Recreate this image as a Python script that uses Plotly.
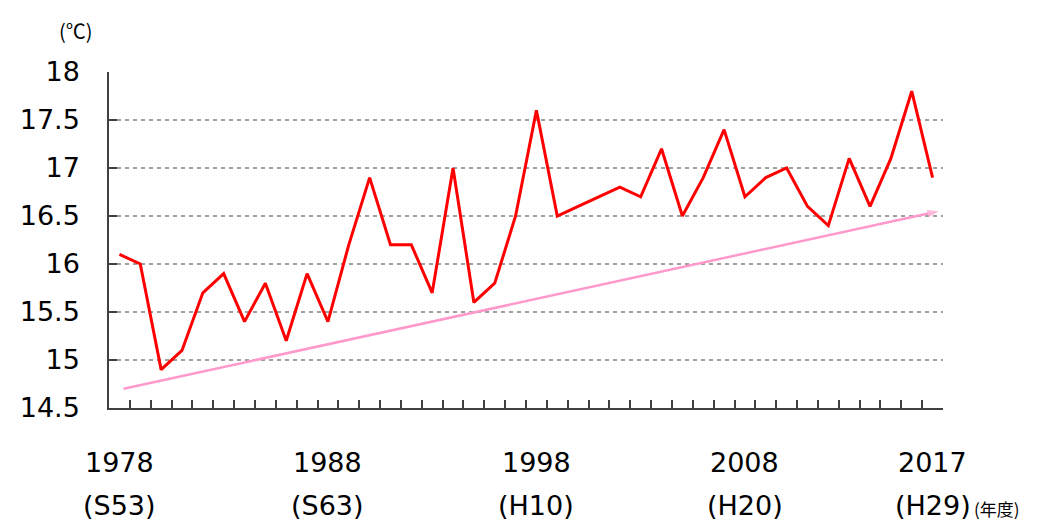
import plotly.graph_objects as go

years = list(range(1978, 2018))
temps = [
    16.1, 16.0, 14.9, 15.1, 15.7, 15.9, 15.4, 15.8, 15.2, 15.9,
    15.4, 16.2, 16.9, 16.2, 16.2, 15.7, 17.0, 15.6, 15.8, 16.5,
    17.6, 16.5, 16.6, 16.7, 16.8, 16.7, 17.2, 16.5, 16.9, 17.4,
    16.7, 16.9, 17.0, 16.6, 16.4, 17.1, 16.6, 17.1, 17.8, 16.9,
]
trend_x = [1978.2, 2017.3]
trend_y = [14.7, 16.55]

label_years = [1978, 1988, 1998, 2008, 2017]
label_eras = ["(S53)", "(S63)", "(H10)", "(H20)", "(H29)"]
y_ticks = [14.5, 15, 15.5, 16, 16.5, 17, 17.5, 18]

FONT = "DejaVu Sans, Verdana, sans-serif"
# the page body adds an 8px margin, so positions below are page pixels
OFF = 8
plot_left, plot_right, plot_top, plot_bottom = 104, 943, 72, 408


def py(row):
    return (plot_bottom - row) / (plot_bottom - plot_top)


def px_(col):
    return (col - plot_left) / (plot_right - plot_left)


fig = go.Figure()
fig.add_trace(go.Scatter(
    x=trend_x, y=trend_y, mode="lines+markers",
    line=dict(color="#FF99CC", width=2.5),
    marker=dict(symbol=["circle", "arrow"], size=[0, 12], angleref="previous",
                color="#FF99CC", line=dict(width=0)),
    hoverinfo="skip",
))
fig.add_trace(go.Scatter(
    x=years, y=temps, mode="lines",
    line=dict(color="#FF0000", width=3),
))

fig.update_xaxes(
    range=[1977.5, 2017.5],
    showgrid=False, zeroline=False,
    showline=True, linecolor="#404040", linewidth=1.5,
    tickvals=label_years, ticktext=[""] * len(label_years), ticks="",
    minor=dict(tickvals=[y + 0.5 for y in years[:-1]], ticks="inside",
               ticklen=8, tickcolor="#404040", tickwidth=1.5, showgrid=False),
)
fig.update_yaxes(
    range=[14.5, 18],
    tickvals=y_ticks, ticktext=[f"{v:g}" for v in y_ticks],
    ticks="inside", ticklen=8, tickcolor="#404040", tickwidth=1.5,
    showline=True, linecolor="#404040", linewidth=1.5,
    showgrid=True, gridcolor="#9E9E9E", griddash="4px,4px", gridwidth=1.5,
    zeroline=False,
    tickfont=dict(size=27, color="black", family=FONT),
    ticklabelstandoff=22,
)

annotations = []
for yr, era in zip(label_years, label_eras):
    annotations.append(dict(x=yr, y=py(462), xref="x", yref="paper", text=str(yr),
                            showarrow=False, font=dict(size=27, color="black", family=FONT),
                            yanchor="middle"))
    annotations.append(dict(x=yr, y=py(505), xref="x", yref="paper", text=era,
                            showarrow=False, font=dict(size=27, color="black", family=FONT),
                            yanchor="middle"))
annotations.append(dict(x=px_(972), y=py(508), xref="paper", yref="paper",
                        xanchor="left", yanchor="middle", text="(年度)", showarrow=False,
                        font=dict(size=17, color="black", family="Noto Sans CJK JP")))
annotations.append(dict(x=px_(71), y=py(30), xref="paper", yref="paper",
                        xanchor="center", yanchor="middle", text="(℃)", showarrow=False,
                        font=dict(size=20, color="black", family="Noto Sans CJK JP")))

fig.update_layout(
    width=1037 - OFF, height=520 - OFF,
    margin=dict(l=plot_left - OFF, r=1037 - plot_right, t=plot_top - OFF, b=520 - plot_bottom),
    paper_bgcolor="white", plot_bgcolor="white",
    showlegend=False,
    annotations=annotations,
)
fig.write_html("out.html")
